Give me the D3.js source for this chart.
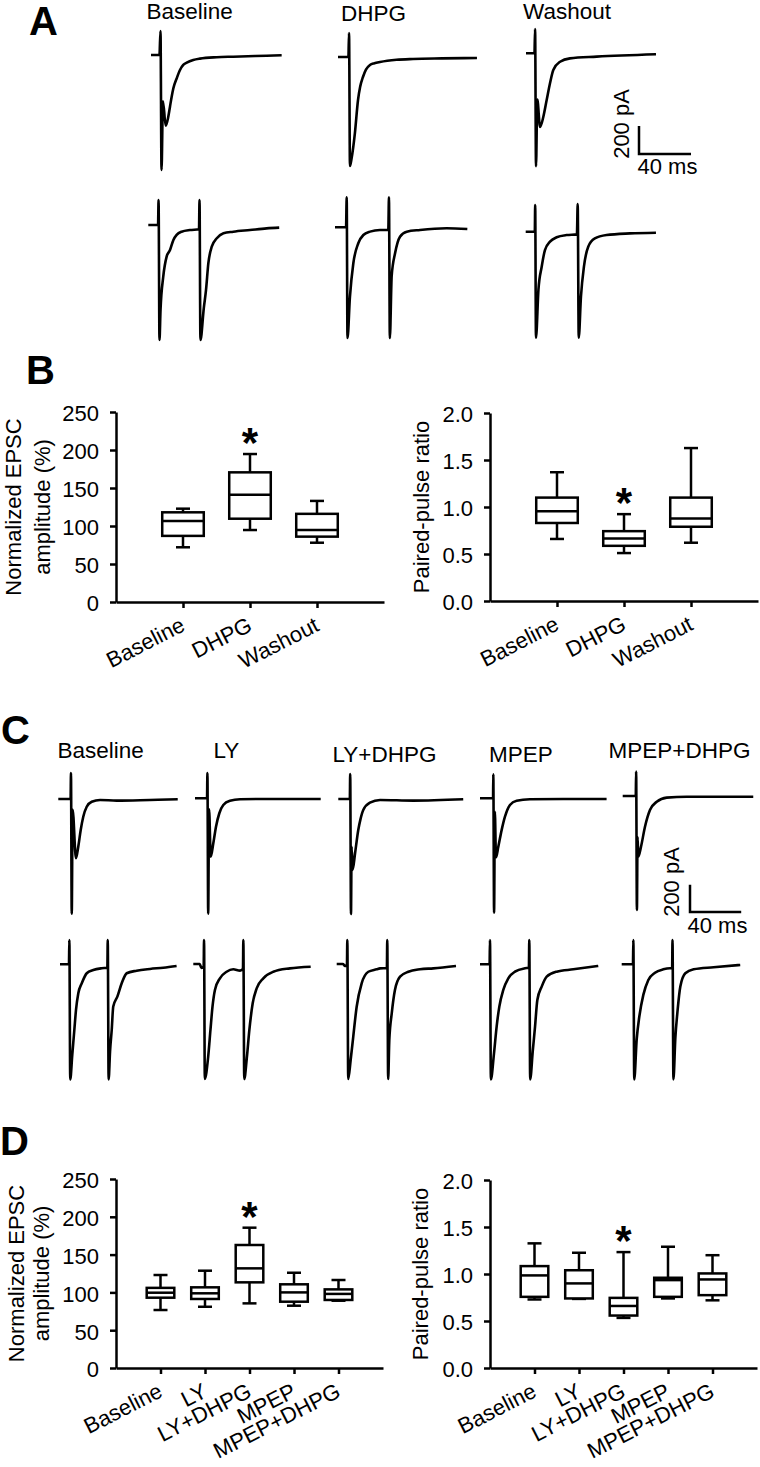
<!DOCTYPE html>
<html>
<head>
<meta charset="utf-8">
<script src="https://cdn.jsdelivr.net/npm/d3@7"></script>
<style>
  body { margin: 0; background: #fff; }
  svg { font-family: "Liberation Sans", Arial, sans-serif; }
</style>
</head>
<body>
<div id="fig"></div>
<script>
var width = 760, height = 1467;

// trace titles
var labelsA = ["Baseline", "DHPG", "Washout"];
var labelsC = ["Baseline", "LY", "LY+DHPG", "MPEP", "MPEP+DHPG"];

// example traces, [time (ms), current (pA)]
var aSingleBaseline = [[0,0],[6.5,0],[7.3,171],[8.1,-821],[9.2,-330],[11.3,-505],[13.3,-441],[14.6,-369],[15.9,-298],[17.2,-238],[19.8,-166],[22.3,-107],[24.8,-71],[27.5,-55],[32.5,-36],[37.7,-26],[50.5,-16],[63.3,-12],[89,-5],[100.5,-2]];
var aSingleDHPG = [[0,0],[8,0],[8.5,171],[9.2,-779],[10.5,-721],[13,-543],[15.4,-307],[17,-215],[19.2,-143],[21.5,-90],[24.6,-57],[28,-45],[32.3,-36],[45,-20],[57.7,-14],[80,-10],[106.9,-7]];
var aSingleWashout = [[0,0],[6.5,0],[7.0,173],[7.7,-806],[8.7,-330],[10.8,-526],[13.3,-455],[15.9,-334],[18.5,-212],[21,-119],[26.2,-60],[33.8,-36],[54.4,-24],[100,-7]];
var aPairBaseline = [[0,0],[7.5,0],[7.9,179],[8.6,-821],[9.4,-607],[11.5,-369],[14.1,-226],[16.7,-179],[19.3,-107],[21.8,-71],[25.6,-48],[32,-36],[39.0,-31],[39.4,179],[40.1,-821],[42.7,-593],[44.4,-464],[46.2,-273],[48.8,-155],[52.7,-95],[57.8,-59],[65.4,-48],[78.2,-36],[91,-24],[100.7,-19]];
var aPairDHPG = [[0,0],[8.5,0],[9.0,214],[9.6,-791],[11.5,-495],[14.1,-257],[17.9,-114],[21.8,-55],[26.9,-31],[34.6,-19],[41,-19],[41.5,214],[42.2,-791],[43.6,-348],[46.2,-186],[50,-67],[55.2,-31],[65.4,-19],[85.9,-7],[101.8,-12]];
var aPairWashout = [[0,0],[7,0],[7.3,190],[7.9,-757],[9.8,-414],[12.3,-250],[14.8,-131],[18.7,-71],[23.8,-40],[31.5,-24],[39.4,-19],[40,197],[40.8,-757],[42.5,-464],[44.8,-250],[48.1,-107],[53.2,-48],[62.2,-24],[80.2,-12],[100.2,-7]];

var cSingleBaseline = [[0,0],[9.6,0],[9.9,190],[10.5,-844],[11.2,-80],[13.8,-436],[15.6,-351],[17.5,-228],[19.5,-130],[22.2,-57],[26.1,-20],[32.6,-7],[45.6,-12],[71.6,-7],[93.3,-2]];
var cSingleLY = [[0,0],[9.4,0],[9.7,186],[10.3,-848],[11.0,-80],[12.3,-429],[14.3,-331],[16.4,-209],[19,-110],[22.1,-49],[27.3,-18],[35.2,-7],[56,-5],[98.2,-5]];
var cSingleLYDHPG = [[0,0],[9.0,0],[9.3,184],[9.9,-846],[10.4,-350],[11.2,-522],[13.1,-399],[15.6,-228],[17.3,-150],[19.5,-81],[24.7,-27],[32.6,-7],[58.6,-12],[97.6,-2]];
var cSingleMPEP = [[0,0],[10.2,0],[10.4,176],[11.0,-841],[11.6,-100],[12.5,-434],[14.3,-356],[16.9,-234],[19.5,-135],[23.4,-49],[28.6,-18],[39,-7],[65,-5],[98.9,-5]];
var cSingleMPEPDHPG = [[0,0],[10.2,0],[10.5,179],[11.1,-838],[11.6,-300],[12.2,-446],[14.3,-373],[17.4,-226],[21.3,-103],[26.6,-42],[34.4,-12],[50,-5],[70.8,-5],[102,-5]];
var cPairBaseline = [[0,0],[7.0,0],[7.3,179],[8.0,-846],[9.6,-665],[11.2,-483],[12.5,-336],[14.3,-213],[17,-140],[20.9,-66],[26,-42],[32.6,-29],[37.0,-25],[37.3,179],[38.0,-846],[39.1,-640],[40.4,-483],[41.6,-311],[44.8,-238],[48.2,-140],[52.1,-66],[59.9,-47],[70.3,-34],[80.7,-25],[91.1,-12]];
var cPairLY = [[0,0],[5,0],[6.3,-29],[8.1,-20],[8.4,176],[9.0,-846],[11.6,-684],[13.4,-485],[15,-314],[16.9,-191],[20.8,-105],[26,-57],[31.2,-39],[36.5,-49],[38.8,-35],[39.1,176],[39.8,-846],[41.8,-692],[43.8,-485],[46.4,-289],[49.5,-179],[54.7,-105],[62.5,-57],[75.5,-32],[91.7,-20]];
var cPairLYDHPG = [[0,0],[5,0],[6.5,-15],[8.0,-10],[8.3,176],[9.0,-846],[10.9,-706],[12.9,-537],[15.6,-314],[19.5,-142],[24.7,-57],[31.2,-39],[33.8,-32],[39.2,-30],[39.5,176],[40.2,-846],[41.1,-559],[43,-363],[45.5,-191],[49.5,-93],[56,-57],[65.1,-39],[75.5,-32],[93.2,-15]];
var cPairMPEP = [[0,0],[7.5,0],[7.8,179],[8.5,-846],[10.9,-658],[13,-458],[15.1,-311],[18.2,-188],[22.1,-103],[27.3,-54],[35.2,-29],[38.2,-25],[38.5,179],[39.2,-846],[41.2,-640],[43,-458],[44.8,-262],[48.2,-164],[52.1,-91],[59.9,-54],[72.9,-37],[92.4,-12]];
var cPairMPEPDHPG = [[0,0],[8.8,0],[9.1,179],[9.8,-846],[11.7,-554],[13.8,-382],[16.9,-225],[20.8,-115],[26,-62],[32.5,-37],[37.7,-29],[39.4,-29],[39.7,179],[40.4,-846],[41.9,-544],[43.7,-336],[45.8,-164],[49.7,-66],[56.2,-37],[71.8,-22],[92.6,-5]];

// scale bars
var barAmp = 200;   // pA
var barTime = 40;   // ms

// box plots: [lower whisker, Q1, median, Q3, upper whisker]
var groupsB = ["Baseline", "DHPG", "Washout"];
var ampB = [[72, 87, 106.6, 118, 122.8], [94.7, 109.6, 141, 170.6, 194.7], [78, 86, 94.7, 116, 133]];
var pprB = [[0.66, 0.83, 0.955, 1.10, 1.37], [0.51, 0.587, 0.665, 0.743, 0.924], [0.62, 0.79, 0.878, 1.10, 1.627]];
var starB = [false, true, false];

var groupsD = ["Baseline", "LY", "LY+DHPG", "MPEP", "MPEP+DHPG"];
var ampD = [[76.7, 93, 99.6, 106, 123], [81, 91.3, 98.8, 106.7, 128.7], [85.5, 113.3, 131.8, 162.7, 185.6], [82.4, 87.7, 100, 110.7, 126], [89, 90, 98, 104, 116.4]];
var pprD = [[0.729, 0.757, 0.985, 1.084, 1.326], [0.735, 0.74, 0.9, 1.04, 1.226], [0.533, 0.558, 0.66, 0.746, 1.233], [0.74, 0.757, 0.935, 0.96, 1.29], [0.72, 0.775, 0.942, 1.006, 1.2]];
var starD = [false, false, true, false, false];

var ampTicks = [0, 50, 100, 150, 200, 250];
var pprTicks = [0, 0.5, 1.0, 1.5, 2.0];

var svg = d3.select("#fig").append("svg")
    .attr("width", width)
    .attr("height", height);

svg.append("rect").attr("width", width).attr("height", height).attr("fill", "#fff");

// panel letters
[["A", 29, 35], ["B", 26, 384], ["C", 1, 744], ["D", 0, 1155]].forEach(function(p) {
    svg.append("text")
        .attr("x", p[1]).attr("y", p[2])
        .attr("font-size", 40).attr("font-weight", "bold")
        .text(p[0]);
});

// ---------- traces ----------
function drawTrace(pts, ox, oy, kx, ky) {
    var x = d3.scaleLinear().domain([0, 100]).range([ox, ox + 100 * kx]);
    var y = d3.scaleLinear().domain([0, 200]).range([oy, oy - 200 * ky]);
    var line = d3.line()
        .x(function(d) { return x(d[0]); })
        .y(function(d) { return y(d[1]); })
        .curve(d3.curveMonotoneX);
    svg.append("path")
        .datum(pts)
        .attr("d", line)
        .attr("fill", "none")
        .attr("stroke", "#000")
        .attr("stroke-width", 2.6)
        .attr("stroke-linejoin", "round");
}

function drawScaleBar(bx, by, kx, ky, ampLabelX, ampLabelY, timeLabelX, timeLabelY) {
    var x = d3.scaleLinear().domain([0, barTime]).range([bx, bx + barTime * kx]);
    var y = d3.scaleLinear().domain([0, barAmp]).range([by, by - barAmp * ky]);
    svg.append("path")
        .attr("d", "M" + x(0) + "," + y(barAmp) + "V" + y(0) + "H" + x(barTime))
        .attr("fill", "none").attr("stroke", "#000").attr("stroke-width", 2.5);
    svg.append("text")
        .attr("transform", "translate(" + ampLabelX + "," + ampLabelY + ")rotate(-90)")
        .attr("text-anchor", "middle").attr("font-size", 22)
        .text(barAmp + " pA");
    svg.append("text")
        .attr("x", timeLabelX).attr("y", timeLabelY)
        .attr("font-size", 22)
        .text(barTime + " ms");
}

// panel A
var kxA = 1.3, kyA = 0.14;
var titlePosA = [[146.5, 18.5], [341, 20.5], [523, 18.5]];
labelsA.forEach(function(t, i) {
    svg.append("text").attr("x", titlePosA[i][0]).attr("y", titlePosA[i][1])
        .attr("font-size", 22.5).text(t);
});
drawTrace(aSingleBaseline, 151, 55, kxA, kyA);
drawTrace(aSingleDHPG, 338, 57, kxA, kyA);
drawTrace(aSingleWashout, 526, 53.3, kxA, kyA);
drawTrace(aPairBaseline, 148.3, 225, kxA, kyA);
drawTrace(aPairDHPG, 335, 227.3, kxA, kyA);
drawTrace(aPairWashout, 525.7, 231.7, kxA, kyA);
drawScaleBar(639, 154, kxA, kyA, 629, 124, 637.5, 174);

// panel C
var kxC = 1.28, kyC = 0.136;
var titlePosC = [[57.5, 758], [213.5, 758], [332.5, 761.5], [489, 761.5], [608.5, 758]];
labelsC.forEach(function(t, i) {
    svg.append("text").attr("x", titlePosC[i][0]).attr("y", titlePosC[i][1])
        .attr("font-size", 22.5).text(t);
});
drawTrace(cSingleBaseline, 58.3, 799, kxC, kyC);
drawTrace(cSingleLY, 195, 798.3, kxC, kyC);
drawTrace(cSingleLYDHPG, 338.3, 799, kxC, kyC);
drawTrace(cSingleMPEP, 480, 798.3, kxC, kyC);
drawTrace(cSingleMPEPDHPG, 622.7, 796, kxC, kyC);
drawTrace(cPairBaseline, 60, 964.3, kxC, kyC);
drawTrace(cPairLY, 193.3, 964, kxC, kyC);
drawTrace(cPairLYDHPG, 336.7, 964, kxC, kyC);
drawTrace(cPairMPEP, 480, 964.3, kxC, kyC);
drawTrace(cPairMPEPDHPG, 621.7, 964.3, kxC, kyC);
drawScaleBar(690, 912, kxC, kyC, 679, 882, 687.5, 933);

// ---------- box plots ----------
function boxPanel(o) {
    var g = svg.append("g");
    var n = o.groups.length;
    var y = d3.scaleLinear().domain([0, o.yMax]).range([o.y0, o.yTop]);
    var x = d3.scaleLinear().domain([0, n + 1]).range([o.x0, o.xEnd]);
    var step = x(1) - x(0);
    var boxW = step * 0.62;
    var capW = 14;

    var yAxis = d3.axisLeft(y)
        .tickValues(o.ticks)
        .tickFormat(o.fmt)
        .tickSize(6)
        .tickSizeOuter(0)
        .tickPadding(11);
    var ya = g.append("g")
        .attr("transform", "translate(" + o.x0 + ",0)")
        .call(yAxis);

    var xAxis = d3.axisBottom(x)
        .tickValues(d3.range(1, n + 1))
        .tickFormat(function(i) { return o.groups[i - 1]; })
        .tickSize(6)
        .tickSizeOuter(0);
    var xa = g.append("g")
        .attr("transform", "translate(0," + o.y0 + ")")
        .call(xAxis);
    xa.selectAll(".tick text")
        .attr("x", 0).attr("y", 0).attr("dy", 0)
        .attr("text-anchor", "end")
        .attr("transform", "translate(3,28)rotate(-27)");

    [ya, xa].forEach(function(a) {
        a.attr("font-family", null).attr("font-size", 22);
        a.selectAll("path, line").attr("stroke", "#000").attr("stroke-width", 2.5);
        a.selectAll("text").attr("fill", "#000");
    });
    ya.selectAll(".tick text").attr("dy", "0.4em");

    o.stats.forEach(function(s, i) {
        var cx = x(i + 1);
        var b = g.append("g")
            .attr("stroke", "#000").attr("stroke-width", 2.5).attr("fill", "none");
        b.append("line").attr("x1", cx).attr("x2", cx).attr("y1", y(s[3])).attr("y2", y(s[4]));
        b.append("line").attr("x1", cx).attr("x2", cx).attr("y1", y(s[1])).attr("y2", y(s[0]));
        b.append("line").attr("x1", cx - capW / 2).attr("x2", cx + capW / 2).attr("y1", y(s[4])).attr("y2", y(s[4]));
        b.append("line").attr("x1", cx - capW / 2).attr("x2", cx + capW / 2).attr("y1", y(s[0])).attr("y2", y(s[0]));
        b.append("rect")
            .attr("x", cx - boxW / 2).attr("width", boxW)
            .attr("y", y(s[3])).attr("height", y(s[1]) - y(s[3]))
            .attr("fill", "#fff");
        b.append("line").attr("x1", cx - boxW / 2).attr("x2", cx + boxW / 2).attr("y1", y(s[2])).attr("y2", y(s[2]));
        if (o.stars[i]) {
            g.append("text")
                .attr("x", cx).attr("y", y(s[4]) + 3)
                .attr("text-anchor", "middle")
                .attr("font-size", 42).attr("font-weight", "bold")
                .text("*");
        }
    });

    var yc = (o.y0 + o.yTop) / 2;
    o.title.forEach(function(t, i) {
        g.append("text")
            .attr("transform", "translate(" + o.titleX[i] + "," + yc + ")rotate(-90)")
            .attr("text-anchor", "middle")
            .attr("font-size", 22)
            .text(t);
    });
}

var intFmt = d3.format("d");
var decFmt = d3.format(".1f");

boxPanel({ groups: groupsB, stats: ampB, stars: starB, ticks: ampTicks, fmt: intFmt, yMax: 250,
    x0: 116, xEnd: 384, y0: 602, yTop: 412,
    title: ["Normalized EPSC", "amplitude (%)"], titleX: [21, 50] });
boxPanel({ groups: groupsB, stats: pprB, stars: starB, ticks: pprTicks, fmt: decFmt, yMax: 2,
    x0: 490, xEnd: 758, y0: 601, yTop: 413,
    title: ["Paired-pulse ratio"], titleX: [429] });
boxPanel({ groups: groupsD, stats: ampD, stars: starD, ticks: ampTicks, fmt: intFmt, yMax: 250,
    x0: 116, xEnd: 383, y0: 1368, yTop: 1179,
    title: ["Normalized EPSC", "amplitude (%)"], titleX: [24, 49] });
boxPanel({ groups: groupsD, stats: pprD, stars: starD, ticks: pprTicks, fmt: decFmt, yMax: 2,
    x0: 490, xEnd: 757, y0: 1368, yTop: 1180,
    title: ["Paired-pulse ratio"], titleX: [428] });
</script>
</body>
</html>
